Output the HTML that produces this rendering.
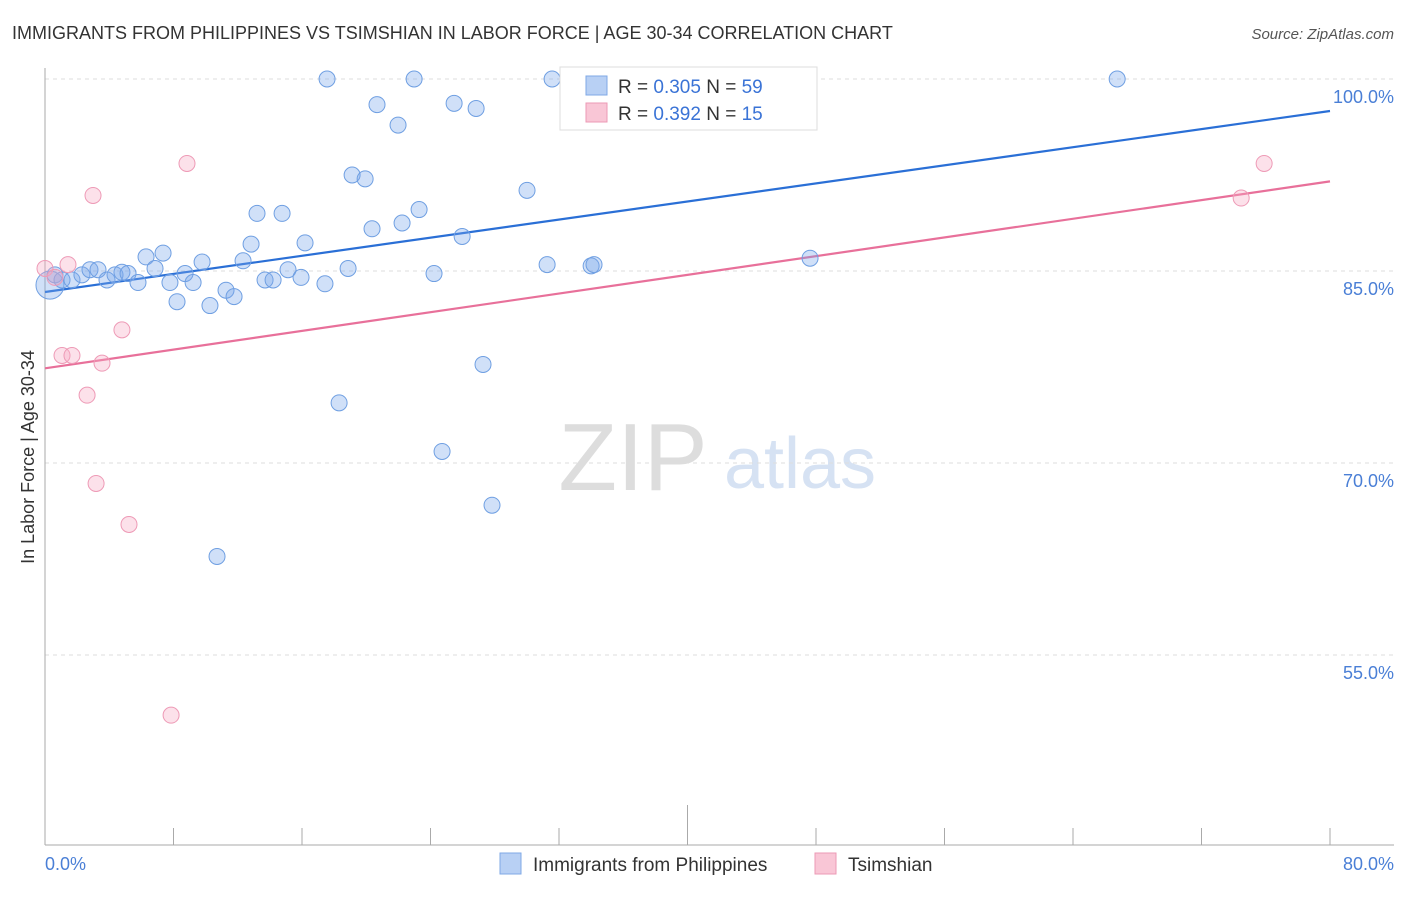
<!DOCTYPE html>
<html><head><meta charset="utf-8"><style>
body{margin:0;background:#fff;font-family:"Liberation Sans",sans-serif}
svg text{font-family:"Liberation Sans",sans-serif}
</style></head><body>
<svg id="chart" width="1406" height="892" xmlns="http://www.w3.org/2000/svg">
<text x="12" y="39" font-size="18" fill="#333">IMMIGRANTS FROM PHILIPPINES VS TSIMSHIAN IN LABOR FORCE | AGE 30-34 CORRELATION CHART</text>
<text x="1394" y="39" font-size="15" fill="#555" text-anchor="end" font-style="italic">Source: ZipAtlas.com</text>
<g>
<text x="633" y="490" font-size="96" fill="#ddd" text-anchor="middle" font-family="Liberation Serif,serif">ZIP</text>
<text x="800" y="488" font-size="72" fill="#d6e2f3" text-anchor="middle">atlas</text>
</g>
<g id="grid"></g>
<g id="axes"></g>
<g id="lines"></g>
<g id="dots"></g>
<text transform="translate(34,457) rotate(-90)" font-size="18" fill="#333" text-anchor="middle">In Labor Force | Age 30-34</text>
<text x="45" y="870" font-size="18" fill="#4a7fd6">0.0%</text>
<text x="1394" y="870" font-size="18" fill="#4a7fd6" text-anchor="end">80.0%</text>
<g>
<rect x="560" y="67" width="257" height="63" fill="#fff" stroke="#ddd"/>
<rect x="586" y="76" width="21" height="19" fill="#b8d0f4" stroke="#7fa8e6"/>
<rect x="586" y="103" width="21" height="19" fill="#f9c6d6" stroke="#ec9ab5"/>
<text x="618" y="93" font-size="19" fill="#333">R = <tspan fill="#3a73d6">0.305</tspan>   N = <tspan fill="#3a73d6">59</tspan></text>
<text x="618" y="120" font-size="19" fill="#333">R =  <tspan fill="#3a73d6">0.392</tspan>   N =  <tspan fill="#3a73d6">15</tspan></text>
</g>
<g>
<rect x="500" y="853" width="21" height="21" fill="#b8d0f4" stroke="#7fa8e6"/>
<text x="533" y="871" font-size="19" fill="#333">Immigrants from Philippines</text>
<rect x="815" y="853" width="21" height="21" fill="#f9c6d6" stroke="#ec9ab5"/>
<text x="848" y="871" font-size="19" fill="#333">Tsimshian</text>
</g>
</svg>
<script>
const yTicks=[100,85,70,55];
const yTickLabels=["100.0%","85.0%","70.0%","55.0%"];
const blueX=[0.31,0.62,1.06,1.68,2.30,2.80,3.30,3.86,4.36,4.79,5.17,5.79,6.29,6.85,7.35,7.78,8.22,8.72,9.22,9.78,10.27,10.71,11.27,11.77,12.33,12.83,13.20,13.70,14.20,14.76,15.13,15.94,16.19,17.43,17.56,18.31,18.87,19.12,19.93,20.36,20.67,21.98,22.23,22.98,23.29,24.22,24.72,25.47,25.97,26.84,27.27,27.83,30.01,31.26,31.57,34.0,34.18,47.63,66.75];
const blueY=[83.9,84.7,84.3,84.3,84.7,85.1,85.1,84.3,84.7,84.9,84.8,84.1,86.1,85.2,86.4,84.1,82.6,84.8,84.1,85.7,82.3,62.7,83.5,83.0,85.8,87.1,89.5,84.3,84.3,89.5,85.1,84.5,87.2,84.0,100,74.7,85.2,92.5,92.2,88.3,98.0,96.4,88.75,100,89.8,84.8,70.9,98.1,87.7,97.7,77.7,66.7,91.3,85.5,100,85.4,85.5,86.0,100];
const pinkX=[0,0.62,1.06,1.43,1.68,2.62,2.99,3.18,3.55,4.79,5.23,7.85,8.84,74.47,75.90];
const pinkY=[85.2,84.5,78.4,85.5,78.4,75.3,90.9,68.4,77.8,80.4,65.2,50.3,93.4,90.7,93.4];
const blueTrend=[83.36,97.5];
const pinkTrend=[77.4,92.0];
const NS="http://www.w3.org/2000/svg";
const sx=v=>45+v*(1285/80);
const sy=v=>79+(100-v)*12.8;
function mk(tag,attrs,parent){const e=document.createElementNS(NS,tag);for(const k in attrs)e.setAttribute(k,attrs[k]);document.getElementById(parent).appendChild(e);return e;}
yTicks.forEach((t,i)=>{
 const l=mk('line',{x1:45,x2:1394,y1:sy(t),y2:sy(t),stroke:'#ddd','stroke-dasharray':'4,4'},'grid');
 
 
 const tx=mk('text',{x:1394,y:sy(t)+24,'font-size':18,fill:'#4a7fd6','text-anchor':'end'},'grid');
 tx.textContent=yTickLabels[i];
 
 
});
const ax=mk('line',{x1:45,x2:45,y1:68,y2:845,stroke:'#aaa'},'axes');


const bx=mk('line',{x1:45,x2:1394,y1:845,y2:845,stroke:'#aaa'},'axes');


for(let i=0;i<=10;i++){
 const x=sx(i*8);
 const t=mk('line',{x1:x,x2:x,y1:i==5?805:828,y2:845,stroke:'#aaa'},'axes');
 
 
}
const bl=mk('line',{x1:sx(0),y1:sy(blueTrend[0]),x2:sx(80),y2:sy(blueTrend[1]),stroke:'#2a6fd6','stroke-width':2.2},'lines');


const pl=mk('line',{x1:sx(0),y1:sy(pinkTrend[0]),x2:sx(80),y2:sy(pinkTrend[1]),stroke:'#e8709a','stroke-width':2.2},'lines');


blueX.forEach((x,i)=>{
 const c=mk('circle',{cx:sx(x),cy:sy(blueY[i]),r:i==0?14:8,fill:'rgba(120,165,235,0.35)',stroke:'#6f9fe2','stroke-width':1},'dots');
 
 
});
pinkX.forEach((x,i)=>{
 const c=mk('circle',{cx:sx(x),cy:sy(pinkY[i]),r:8,fill:'rgba(245,170,195,0.35)',stroke:'#ee9ab6','stroke-width':1},'dots');
 
 
});
</script>
</body></html>
